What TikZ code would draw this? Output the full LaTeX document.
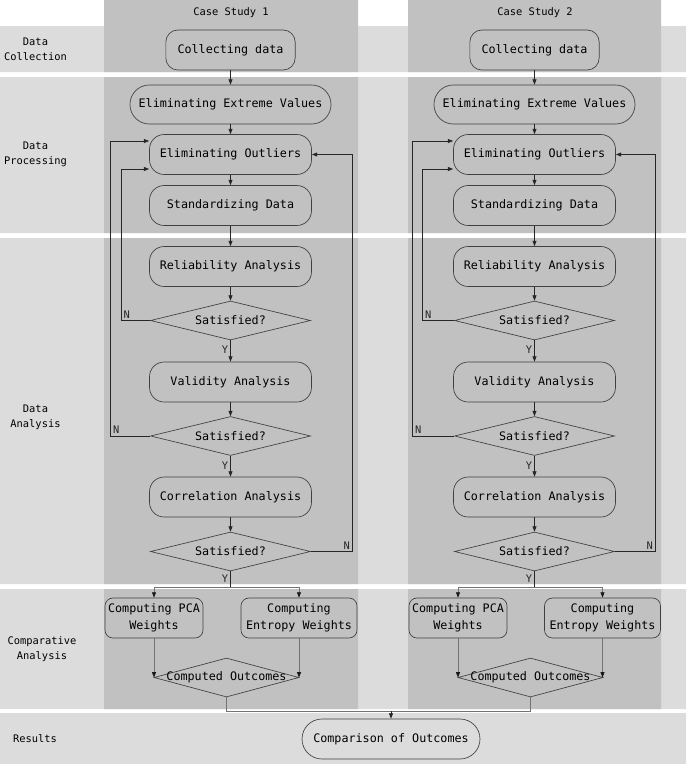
\documentclass[tikz,border=0pt]{standalone}
\usepackage{fontspec}
\setmainfont{DejaVu Sans Mono}
\usetikzlibrary{calc, positioning, arrows.meta, shapes.geometric}
\definecolor{bandgray}{RGB}{220,220,220}
\definecolor{colgray}{RGB}{193,193,193}

\begin{document}
\begin{tikzpicture}[
		x=0.75pt, y=-0.75pt,
		>={Triangle[length=4pt,width=3pt]}, line width=0.5pt,
		box/.style={draw=black!75, rounded corners=11pt, inner sep=0pt, minimum width=121.5pt, minimum height=30pt, align=center, font=\fontsize{8.8}{12.75}\selectfont},
		pill/.style={box, rounded corners=14.5pt},
		check/.style={draw=black!75, diamond, aspect=4, inner sep=0pt, minimum width=120pt, minimum height=29.25pt, font=\fontsize{8.8}{12.75}\selectfont},
		rowtext/.style={align=center, font=\fontsize{7.8}{11.25}\selectfont},
		yn/.style={inner sep=1.5pt, font=\fontsize{7.8}{9}\selectfont},
		flow/.style={->, black!85},
		merge/.style={black!55},
		mergeto/.style={black!55, -{Triangle[length=4pt,width=3pt,black!90]}}
		]
		\useasboundingbox (0,0) rectangle (686,764);
		
		% Bänder und Spalten
		\fill[bandgray] (0,26) rectangle (686,72) (0,77) rectangle (686,233) (0,238) rectangle (686,584) (0,589) rectangle (686,709) (0,713) rectangle (686,764);
		\fill[colgray] (104,0) rectangle (358,72) (104,77) rectangle (358,233) (104,238) rectangle (358,584) (104,589) rectangle (358,709);
		\fill[colgray] (408,0) rectangle (661,72) (408,77) rectangle (661,233) (408,238) rectangle (661,584) (408,589) rectangle (661,709);
		
		\node[rowtext] (title1) at (231,13) {Case Study 1};
		\node[rowtext] (title2) at (535,13) {Case Study 2};
		\node[rowtext] (row1) at (35.5,49.5) {Data\\Collection};
		\node[rowtext] (row2) at (35.5,154.5) {Data\\Processing};
		\node[rowtext] (row3) at (35.5,417.5) {Data\\Analysis};
		\node[rowtext] (row4) at (42,649.5) {Comparative\\Analysis};
		\node[rowtext] (row5) at (35,739) {Results};
		
		% Fallstudie 1
		\node[box, rounded corners=9pt, minimum width=97pt] (collect1) at (230.5,50) {Collecting data};
		\node[pill, minimum width=150.75pt, minimum height=29.25pt] (extreme1) at (230.5,104.5) {Eliminating Extreme Values};
		\node[box] (outl1) at (230.5,154.5) {Eliminating Outliers};
		\node[box] (stand1) at (230.5,205.5) {Standardizing Data};
		\node[box] (rel1) at (230.5,266.5) {Reliability Analysis};
		\node[check] (sat1a) at (230.5,320.5) {Satisfied?};
		\node[box] (val1) at (230.5,382) {Validity Analysis};
		\node[check] (sat1b) at (230.5,436) {Satisfied?};
		\node[box] (cor1) at (230.5,497) {Correlation Analysis};
		\node[check] (sat1c) at (230.5,551.5) {Satisfied?};
		\coordinate (split1) at (230.5,587);
		\node[box, rounded corners=6pt, minimum width=73.5pt] (pca1) at (154,618) {Computing PCA\\Weights};
		\node[box, rounded corners=6pt, minimum width=87pt] (ent1) at (299,618) {Computing\\Entropy Weights};
		\node[check, aspect=3.7, minimum width=108.75pt, label={[font=\fontsize{8.8}{12.75}\selectfont]center:Computed Outcomes}] (out1) at (226.5,677.5) {};
		
		% Fallstudie 2
		\node[box, rounded corners=9pt, minimum width=97pt] (collect2) at (534.5,50) {Collecting data};
		\node[pill, minimum width=150.75pt, minimum height=29.25pt] (extreme2) at (534.5,104.5) {Eliminating Extreme Values};
		\node[box] (outl2) at (534.5,154.5) {Eliminating Outliers};
		\node[box] (stand2) at (534.5,205.5) {Standardizing Data};
		\node[box] (rel2) at (534.5,266.5) {Reliability Analysis};
		\node[check] (sat2a) at (534.5,320.5) {Satisfied?};
		\node[box] (val2) at (534.5,382) {Validity Analysis};
		\node[check] (sat2b) at (534.5,436) {Satisfied?};
		\node[box] (cor2) at (534.5,497) {Correlation Analysis};
		\node[check] (sat2c) at (534.5,551.5) {Satisfied?};
		\coordinate (split2) at (534.5,587);
		\node[box, rounded corners=6pt, minimum width=73.5pt] (pca2) at (458,618) {Computing PCA\\Weights};
		\node[box, rounded corners=6pt, minimum width=87pt] (ent2) at (602.5,618) {Computing\\Entropy Weights};
		\node[check, aspect=3.7, minimum width=108.75pt, label={[font=\fontsize{8.8}{12.75}\selectfont]center:Computed Outcomes}] (out2) at (530.5,677.5) {};
		
		% Ergebnis
		\node[pill, minimum width=133.5pt, rounded corners=15pt] (compare) at (391,739) {Comparison of Outcomes};
		\coordinate (join) at (391,711);
		
		% Pfeile Fallstudie 1
		\draw[flow] (collect1) -- (extreme1);
		\draw[flow] (extreme1) -- (outl1);
		\draw[flow] (outl1) -- (stand1);
		\draw[flow] (stand1) -- (rel1);
		\draw[flow] (rel1) -- (sat1a);
		\draw[flow] (sat1a) -- node[yn, left, pos=0.45] {Y} (val1);
		\draw[flow] (val1) -- (sat1b);
		\draw[flow] (sat1b) -- node[yn, left, pos=0.45] {Y} (cor1);
		\draw[flow] (cor1) -- (sat1c);
		\draw[black!85] (sat1c.south) -- node[yn, left, pos=0.45] {Y} (split1);
		\draw[flow] (sat1a.west) -- ++(-29,0) node[yn, above right] {N} |- ($(outl1.west)+(0,14.5)$);
		\draw[flow] (sat1b.west) -- ++(-39.5,0) node[yn, above right] {N} |- ($(outl1.west)+(0,-13.5)$);
		\draw[flow] (sat1c.east) -- ++(41.5,0) node[yn, above left] {N} |- (outl1.east);
		\draw[mergeto] (split1) -| (pca1.north);
		\draw[mergeto] (split1) -| (ent1.north);
		\draw[mergeto] (pca1.south) -- (pca1.south |- out1.west);
		\draw[mergeto] (ent1.south) -- (ent1.south |- out1.east);
		
		% Pfeile Fallstudie 2
		\draw[flow] (collect2) -- (extreme2);
		\draw[flow] (extreme2) -- (outl2);
		\draw[flow] (outl2) -- (stand2);
		\draw[flow] (stand2) -- (rel2);
		\draw[flow] (rel2) -- (sat2a);
		\draw[flow] (sat2a) -- node[yn, left, pos=0.45] {Y} (val2);
		\draw[flow] (val2) -- (sat2b);
		\draw[flow] (sat2b) -- node[yn, left, pos=0.45] {Y} (cor2);
		\draw[flow] (cor2) -- (sat2c);
		\draw[black!85] (sat2c.south) -- node[yn, left, pos=0.45] {Y} (split2);
		\draw[flow] (sat2a.west) -- ++(-31.5,0) node[yn, above right] {N} |- ($(outl2.west)+(0,14.5)$);
		\draw[flow] (sat2b.west) -- ++(-41.5,0) node[yn, above right] {N} |- ($(outl2.west)+(0,-13.5)$);
		\draw[flow] (sat2c.east) -- ++(40.5,0) node[yn, above left] {N} |- (outl2.east);
		\draw[mergeto] (split2) -| (pca2.north);
		\draw[mergeto] (split2) -| (ent2.north);
		\draw[mergeto] (pca2.south) -- (pca2.south |- out2.west);
		\draw[mergeto] (ent2.south) -- (ent2.south |- out2.east);
		
		% Zusammenführung
		\draw[merge] (out1.south) |- (join);
		\draw[merge] (out2.south) |- (join);
		\draw[flow] (join) -- (compare.north);
		
	\end{tikzpicture}
\end{document}
